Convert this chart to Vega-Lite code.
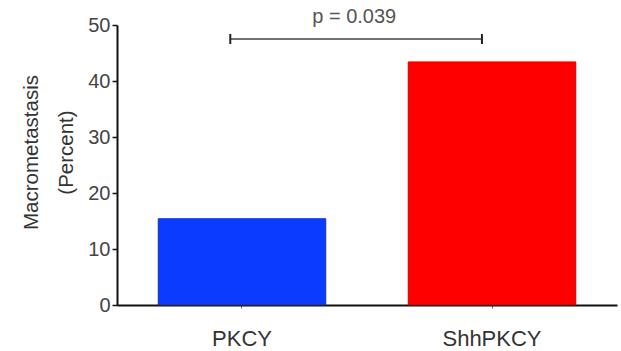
{
  "$schema": "https://vega.github.io/schema/vega-lite/v6.json",
  "width": 500,
  "height": 280,
  "autosize": {"type": "none"},
  "padding": {"left": 117, "top": 25, "right": 4, "bottom": 46},
  "config": {"view": {"stroke": null}, "font": "Liberation Sans"},
  "datasets": {
    "bars": [
      {"group": "PKCY", "pct": 15.4},
      {"group": "ShhPKCY", "pct": 43.4}
    ],
    "sig": [
      {"from": "PKCY", "to": "ShhPKCY", "y": 47.5, "ylo": 46.6, "yhi": 48.4, "label": "p = 0.039", "ylab": 51.4}
    ]
  },
  "layer": [
    {
      "data": {"name": "bars"},
      "mark": {"type": "bar", "strokeWidth": 1},
      "encoding": {
        "x": {
          "field": "group", "type": "nominal", "sort": null,
          "scale": {"paddingInner": 0.33, "paddingOuter": 0.165},
          "axis": {"title": null, "labelAngle": 0, "labelFontSize": 22, "labelColor": "#333", "labelPadding": 20,
                   "domainColor": "#111", "domainWidth": 2, "tickColor": "#666", "tickSize": 3, "tickWidth": 1}
        },
        "y": {
          "field": "pct", "type": "quantitative",
          "scale": {"domain": [0, 50], "nice": false},
          "axis": {"title": ["Macrometastasis", "(Percent)"], "titleFontSize": 20.5, "titleFontWeight": "normal", "titleColor": "#333",
                   "titleLineHeight": 35, "titleX": -76, "titleY": 127, "titleAlign": "center", "titleBaseline": "bottom", "titleAngle": -90,
                   "values": [0, 10, 20, 30, 40, 50], "grid": false, "labelFontSize": 20, "labelColor": "#444", "labelPadding": 2,
                   "domainColor": "#111", "domainWidth": 2, "tickColor": "#111", "tickSize": 5, "tickWidth": 1.5}
        },
        "fill": {"field": "group", "type": "nominal", "scale": {"range": ["#0a3cff", "#ff0000"]}, "legend": null},
        "stroke": {"field": "group", "type": "nominal", "scale": {"range": ["#1530a8", "#c80000"]}, "legend": null}
      }
    },
    {
      "data": {"name": "sig"},
      "mark": {"type": "rule", "color": "#444", "strokeWidth": 1.5},
      "encoding": {
        "x": {"field": "from", "type": "nominal", "bandPosition": 0.43},
        "x2": {"field": "to", "bandPosition": 0.44},
        "y": {"field": "y", "type": "quantitative"}
      }
    },
    {
      "data": {"name": "sig"},
      "mark": {"type": "rule", "color": "#222", "strokeWidth": 2},
      "encoding": {
        "x": {"field": "from", "type": "nominal", "bandPosition": 0.43},
        "y": {"field": "ylo", "type": "quantitative"},
        "y2": {"field": "yhi"}
      }
    },
    {
      "data": {"name": "sig"},
      "mark": {"type": "rule", "color": "#222", "strokeWidth": 2},
      "encoding": {
        "x": {"field": "to", "type": "nominal", "bandPosition": 0.44},
        "y": {"field": "ylo", "type": "quantitative"},
        "y2": {"field": "yhi"}
      }
    },
    {
      "data": {"name": "sig"},
      "mark": {"type": "text", "fontSize": 20, "color": "#555", "baseline": "middle", "align": "center"},
      "encoding": {
        "x": {"field": "from", "type": "nominal", "bandPosition": 1.17},
        "y": {"field": "ylab", "type": "quantitative"},
        "text": {"field": "label"}
      }
    }
  ]
}
